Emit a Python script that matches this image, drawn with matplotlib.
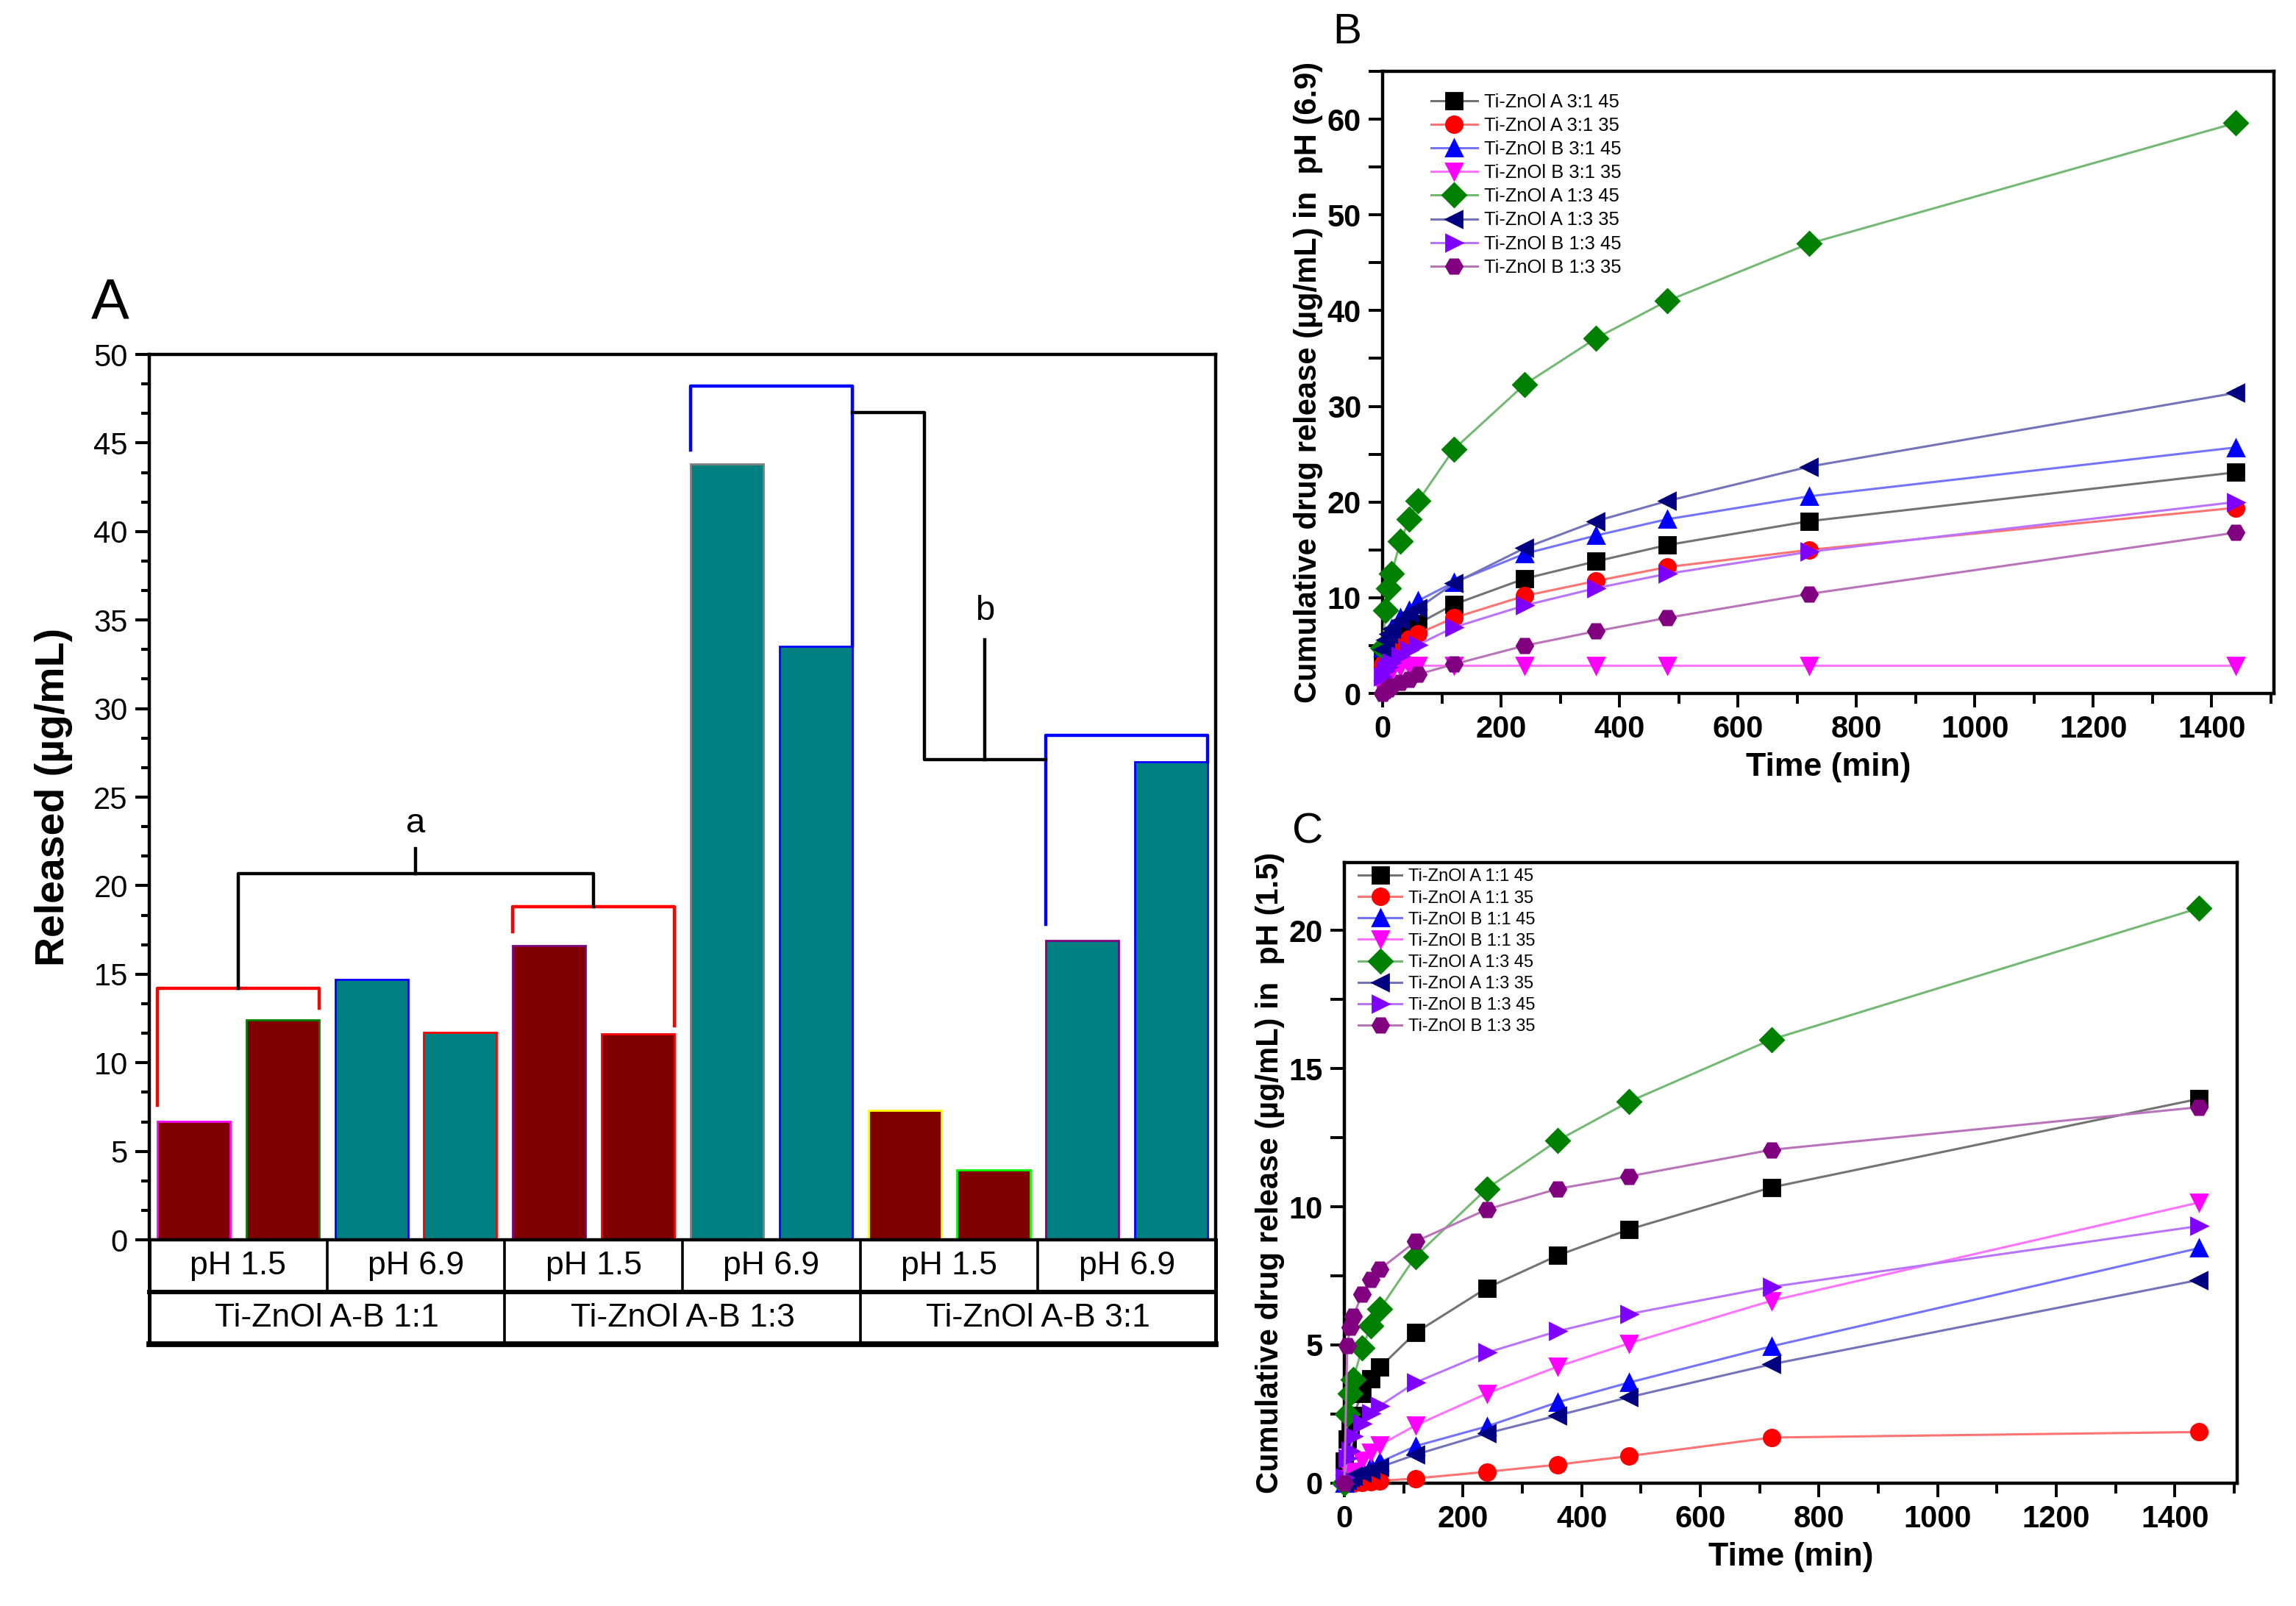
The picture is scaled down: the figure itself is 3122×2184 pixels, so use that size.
import matplotlib
matplotlib.use('Agg')
import matplotlib.pyplot as plt
from matplotlib.colors import to_rgb
from matplotlib.ticker import MultipleLocator

plt.rcParams['font.family'] = ['Liberation Sans', 'DejaVu Sans']

# ---------------- panel A data ----------------
groups = ['Ti-ZnOl A-B 1:1', 'Ti-ZnOl A-B 1:3', 'Ti-ZnOl A-B 3:1']
ph_cells = ['pH 1.5', 'pH 6.9', 'pH 1.5', 'pH 6.9', 'pH 1.5', 'pH 6.9']
released = [6.7, 12.4, 14.7, 11.7, 16.6, 11.65, 43.8, 33.5, 7.3, 3.95, 16.9, 27.0]
bar_ph = ['1.5', '1.5', '6.9', '6.9', '1.5', '1.5', '6.9', '6.9', '1.5', '1.5', '6.9', '6.9']
bar_edges = ['magenta', 'green', 'blue', 'red', 'purple', 'red',
             'gray', 'blue', 'yellow', 'lime', 'purple', 'blue']

# brackets: left bar, right bar, top level, left foot, right foot, colour
brackets = [(0, 1, 14.2, 7.6, 13.1, 'red'),
            (4, 5, 18.8, 17.4, 12.1, 'red'),
            (6, 7, 48.2, 44.6, 33.55, 'blue'),
            (10, 11, 28.5, 17.8, 27.0, 'blue')]

# ---------------- panels B / C data ----------------
times = [0, 5, 10, 15, 30, 45, 60, 120, 240, 360, 480, 720, 1440]

labels_b = ['Ti-ZnOl A 3:1 45', 'Ti-ZnOl A 3:1 35', 'Ti-ZnOl B 3:1 45', 'Ti-ZnOl B 3:1 35',
            'Ti-ZnOl A 1:3 45', 'Ti-ZnOl A 1:3 35', 'Ti-ZnOl B 1:3 45', 'Ti-ZnOl B 1:3 35']
b_a31_45 = [3.5, 4.3, 4.8, 5.2, 5.7, 6.5, 7.3, 9.3, 12.0, 13.8, 15.5, 18.0, 23.1]
b_a31_35 = [3.0, 3.8, 4.3, 4.7, 5.1, 5.7, 6.25, 7.9, 10.2, 11.75, 13.2, 15.0, 19.4]
b_b31_45 = [4.8, 5.6, 6.2, 6.8, 7.9, 8.7, 9.7, 11.6, 14.6, 16.5, 18.2, 20.6, 25.7]
b_b31_35 = [0.5, 1.2, 1.8, 2.3, 2.8, 2.9, 2.9, 2.9, 2.9, 2.9, 2.9, 2.9, 2.9]
b_a13_45 = [4.8, 8.7, 11.0, 12.5, 15.9, 18.2, 20.1, 25.5, 32.3, 37.1, 41.0, 47.0, 59.6]
b_a13_35 = [4.6, 5.6, 6.2, 6.8, 7.6, 8.4, 8.9, 11.5, 15.2, 18.0, 20.1, 23.7, 31.4]
b_b13_45 = [1.8, 2.4, 2.8, 3.2, 3.9, 4.5, 5.1, 6.9, 9.2, 11.0, 12.5, 14.8, 20.0]
b_b13_35 = [0.0, 0.3, 0.5, 0.8, 1.15, 1.5, 2.0, 3.05, 5.0, 6.5, 7.9, 10.4, 16.8]

labels_c = ['Ti-ZnOl A 1:1 45', 'Ti-ZnOl A 1:1 35', 'Ti-ZnOl B 1:1 45', 'Ti-ZnOl B 1:1 35',
            'Ti-ZnOl A 1:3 45', 'Ti-ZnOl A 1:3 35', 'Ti-ZnOl B 1:3 45', 'Ti-ZnOl B 1:3 35']
c_a11_45 = [0.8, 1.6, 2.1, 2.45, 3.24, 3.78, 4.19, 5.44, 7.06, 8.24, 9.18, 10.7, 13.9]
c_a11_35 = [0.0, 0.0, 0.0, 0.01, 0.03, 0.05, 0.08, 0.17, 0.41, 0.67, 0.98, 1.65, 1.85]
c_b11_45 = [0.0, 0.1, 0.2, 0.27, 0.49, 0.62, 0.76, 1.34, 2.05, 2.93, 3.64, 4.95, 8.5]
c_b11_35 = [0.0, 0.15, 0.3, 0.43, 0.81, 1.12, 1.38, 2.09, 3.24, 4.22, 5.06, 6.6, 10.15]
c_a13_45 = [0.0, 2.49, 3.24, 3.75, 4.89, 5.68, 6.3, 8.2, 10.65, 12.4, 13.8, 16.05, 20.8]
c_a13_35 = [0.05, 0.12, 0.2, 0.27, 0.36, 0.49, 0.58, 1.03, 1.8, 2.45, 3.11, 4.3, 7.35]
c_b13_45 = [0.2, 0.9, 1.17, 1.69, 2.14, 2.53, 2.8, 3.64, 4.72, 5.5, 6.12, 7.1, 9.3]
c_b13_35 = [0.0, 4.97, 5.64, 6.04, 6.84, 7.37, 7.74, 8.74, 9.9, 10.65, 11.1, 12.06, 13.6]

colors = ['#000000', '#ff0000', '#0000ff', '#ff00ff', '#008000', '#000080', '#8000ff', '#800080']
markers = ['s', 'o', '^', 'v', 'D', '<', '>', 'H']


def lighten(c, amt=0.45):
    r, g, b = to_rgb(c)
    return (r + (1 - r) * amt, g + (1 - g) * amt, b + (1 - b) * amt)


fig = plt.figure(figsize=(15.61, 10.92), dpi=200)

# ---------------- panel A ----------------
ax = fig.add_axes([0.065, 0.228, 0.4645, 0.5513])
xs = list(range(len(released)))
w = 0.82
fills = ['#800000' if p == '1.5' else '#008080' for p in bar_ph]
ax.bar(xs, released, width=w, color=fills, edgecolor=bar_edges, linewidth=1.0, zorder=2)
ax.set_xlim(-0.5, 11.5)
ax.set_ylim(0, 50)
ax.yaxis.set_major_locator(MultipleLocator(5))
ax.yaxis.set_minor_locator(MultipleLocator(5 / 3))
ax.set_xticks([])
ax.tick_params(axis='y', which='major', direction='out', length=7, width=1.5, labelsize=15)
ax.tick_params(axis='y', which='minor', direction='out', length=4, width=1.5)
for s in ax.spines.values():
    s.set_linewidth(1.6)
ax.set_ylabel('Released (µg/mL)', fontsize=20, fontweight='bold', labelpad=10)

for l, r, top, lf, rf, col in brackets:
    x0, x1 = l - w / 2, r + w / 2
    ax.plot([x0, x0, x1, x1], [lf, top, top, rf], color=col, lw=1.6, zorder=3)

# bracket a joins the midpoints of the two red brackets
ra, rb = brackets[0], brackets[1]
ma = (ra[0] + ra[1]) / 2
mb = (rb[0] + rb[1]) / 2
ax.plot([ma, ma, mb, mb], [ra[2], 20.7, 20.7, rb[2]], color='black', lw=1.6, zorder=3)
ax.plot([(ma + mb) / 2] * 2, [20.7, 22.1], color='black', lw=1.6)
ax.text((ma + mb) / 2, 23.5, 'a', ha='center', va='center', fontsize=17)

# bracket b joins the two blue brackets
ba, bb = brackets[2], brackets[3]
xa = ba[1] + w / 2
xb = bb[0] - w / 2
xm = 8.22
ax.plot([xa, xm, xm, xb], [46.7, 46.7, 27.1, 27.1], color='black', lw=1.6, zorder=3)
ax.plot([(xm + xb) / 2] * 2, [27.1, 33.9], color='black', lw=1.6)
ax.text((xm + xb) / 2, 35.5, 'b', ha='center', va='center', fontsize=17)

fig.text(0.048, 0.811, 'A', fontsize=28, ha='center', va='center')

# table under the bars
tab = fig.add_axes([0.065, 0.163, 0.4645, 0.065])
tab.set_xlim(-0.5, 11.5)
tab.set_ylim(2, 0)
tab.axis('off')
for i, lab in enumerate(ph_cells):
    tab.text(2 * i + 0.5, 0.5, lab, ha='center', va='center', fontsize=16)
for i, lab in enumerate(groups):
    tab.text(4 * i + 1.5, 1.5, lab, ha='center', va='center', fontsize=16)
tab.plot([-0.5, 11.5], [1, 1], color='black', lw=2.2, clip_on=False)
tab.plot([-0.5, 11.5], [2, 2], color='black', lw=2.8, clip_on=False)
tab.plot([-0.5, -0.5], [0, 2], color='black', lw=1.8, clip_on=False)
tab.plot([11.5, 11.5], [0, 2], color='black', lw=1.8, clip_on=False)
for i in range(1, len(ph_cells)):
    tab.plot([2 * i - 0.5] * 2, [0, 1], color='black', lw=1.3, clip_on=False)
for i in range(1, len(groups)):
    tab.plot([4 * i - 0.5] * 2, [1, 2], color='black', lw=1.3, clip_on=False)


# ---------------- panels B and C ----------------
def release_panel(ax, series, labels, ytop, ymaj, ymin, ylab, leg_xy, leg_fs, leg_sp):
    for vals, lab, c, m in zip(series, labels, colors, markers):
        ax.plot(times, vals, color=lighten(c), lw=1.1, marker=m, ms=8,
                mfc=c, mec=c, label=lab, clip_on=False, zorder=3)
    ax.set_xlim(0, 1505)
    ax.set_ylim(0, ytop)
    ax.xaxis.set_major_locator(MultipleLocator(200))
    ax.xaxis.set_minor_locator(MultipleLocator(100))
    ax.yaxis.set_major_locator(MultipleLocator(ymaj))
    ax.yaxis.set_minor_locator(MultipleLocator(ymin))
    ax.tick_params(which='major', direction='out', length=7, width=1.4, labelsize=15)
    ax.tick_params(which='minor', direction='out', length=5, width=1.4)
    ax.tick_params(axis='y', which='minor', length=7)
    for t in ax.get_xticklabels() + ax.get_yticklabels():
        t.set_fontweight('bold')
    for s in ax.spines.values():
        s.set_linewidth(1.6)
    ax.set_xlabel('Time (min)', fontsize=16, fontweight='bold')
    ax.set_ylabel(ylab, fontsize=15, fontweight='bold', labelpad=2)
    ax.legend(loc='upper left', bbox_to_anchor=leg_xy, frameon=False, fontsize=leg_fs,
              handlelength=2.5, handletextpad=0.35, labelspacing=leg_sp,
              borderaxespad=0, borderpad=0, markerscale=1.0)


axb = fig.add_axes([0.6022, 0.5682, 0.3882, 0.3874])
release_panel(axb, [b_a31_45, b_a31_35, b_b31_45, b_b31_35, b_a13_45, b_a13_35, b_b13_45, b_b13_35],
              labels_b, 65, 10, 5, 'Cumulative drug release (µg/mL) in  pH (6.9)',
              (0.054, 0.965), 9.2, 0.32)
fig.text(0.5868, 0.98, 'B', fontsize=21, ha='center', va='center')

axc = fig.add_axes([0.5855, 0.0765, 0.3889, 0.3864])
release_panel(axc, [c_a11_45, c_a11_35, c_b11_45, c_b11_35, c_a13_45, c_a13_35, c_b13_45, c_b13_35],
              labels_c, 22.45, 5, 2.5, 'Cumulative drug release (µg/mL) in  pH (1.5)',
              (0.016, 0.99), 8.5, 0.3)
fig.text(0.5695, 0.482, 'C', fontsize=21, ha='center', va='center')

fig.savefig('out.png', dpi=200)
